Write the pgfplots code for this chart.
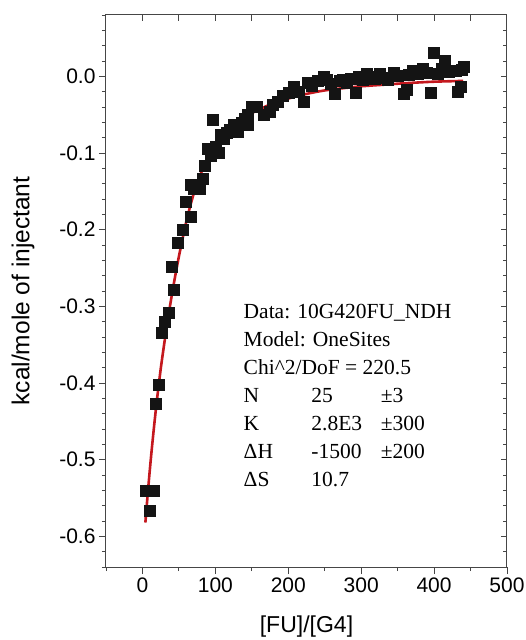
\documentclass[border=0pt]{standalone}
\usepackage{fontspec}
\setmainfont{Liberation Sans}
\newfontfamily\boxfont{Liberation Serif}
\usepackage{pgfplots}
\usepackage{pgfplotstable}
\pgfplotsset{compat=1.18}
\definecolor{fitred}{RGB}{196,24,30}
\definecolor{axgray}{RGB}{70,70,70}

\pgfplotstableread{
x y
4 -0.541
10 -0.566
16 -0.541
18 -0.427
22 -0.402
26 -0.335
30 -0.320
36 -0.308
43 -0.278
40 -0.248
48 -0.217
55 -0.200
60 -0.163
66 -0.183
66 -0.141
70 -0.146
79 -0.146
82 -0.134
86 -0.117
90 -0.095
94 -0.103
96 -0.057
100 -0.092
104 -0.099
107 -0.076
112 -0.082
116 -0.073
120 -0.070
125 -0.063
131 -0.072
136 -0.060
140 -0.055
144 -0.050
145 -0.063
150 -0.039
157 -0.039
166 -0.050
175 -0.046
179 -0.037
185 -0.033
193 -0.025
200 -0.022
207 -0.014
214 -0.020
221 -0.033
226 -0.008
232 -0.012
240 -0.006
248 -0.001
253 -0.004
258 -0.010
264 -0.023
270 -0.006
274 -0.004
280 -0.008
285 -0.003
292 -0.021
296 -0.001
302 -0.005
308 0.003
312 0.000
318 -0.003
326 0.003
330 -0.002
337 -0.004
344 0.005
350 0.001
358 -0.023
362 -0.017
365 0.002
371 0.007
378 0.004
385 0.010
390 0.005
395 -0.021
399 0.031
405 0.003
410 0.010
415 0.020
420 0.006
429 0.007
432 -0.020
436 -0.013
438 0.009
440 0.012
}\datatable

\pgfplotstableread{
x y
4 -0.582
8 -0.536
12 -0.494
16 -0.456
20 -0.421
25 -0.382
30 -0.348
35 -0.316
40 -0.287
45 -0.260
50 -0.235
55 -0.212
60 -0.190
65 -0.171
70 -0.154
75 -0.140
80 -0.127
90 -0.106
100 -0.091
110 -0.079
120 -0.069
130 -0.061
140 -0.054
150 -0.048
165 -0.041
180 -0.035
200 -0.029
220 -0.024
240 -0.020
260 -0.017
280 -0.015
300 -0.013
330 -0.011
360 -0.009
400 -0.007
440 -0.006
}\fittable

\newcommand{\boxtext}{\boxfont\fontsize{21.5}{26}\selectfont}

\begin{document}
\begin{tikzpicture}
\useasboundingbox (-106pt,-73pt) rectangle (420pt,567pt);
\begin{axis}[
  at={(0pt,0pt)}, anchor=south west,
  scale only axis, width=401pt, height=552pt,
  xmin=-50, xmax=500, ymin=-0.64, ymax=0.08,
  xtick={0,100,200,300,400,500},
  minor xtick={-50,50,150,250,350,450},
  ytick={-0.6,-0.5,-0.4,-0.3,-0.2,-0.1,0},
  minor ytick={-0.64,-0.62,-0.58,-0.56,-0.54,-0.52,-0.48,-0.46,-0.44,-0.42,-0.38,-0.36,-0.34,-0.32,-0.28,-0.26,-0.24,-0.22,-0.18,-0.16,-0.14,-0.12,-0.08,-0.06,-0.04,-0.02,0.02,0.04,0.06,0.08},
  xtick pos=left, ytick pos=left,
  tick align=outside,
  major tick length=7pt, minor tick length=4pt,
  every tick/.style={axgray, line width=0.9pt},
  axis line style={axgray, line width=1pt},
  scaled y ticks=false,
  /pgf/number format/assume math mode=true,
  ticklabel style={font=\fontsize{21}{21}\selectfont},
  yticklabel style={/pgf/number format/.cd, fixed, fixed zerofill, precision=1},
  xticklabel style={/pgf/number format/.cd, fixed, precision=0},
  xlabel={[FU]/[G4]},
  ylabel={kcal/mole of injectant},
  every axis x label/.style={at={(axis description cs:0.5,-0.107)}, anchor=center, font=\fontsize{23}{23}\selectfont},
  every axis y label/.style={at={(axis description cs:-0.207,0.5)}, anchor=center, rotate=90, font=\fontsize{24.5}{24.5}\selectfont},
]
\addplot[only marks, mark=square*, mark size=5.5pt, mark options={fill=black!92, draw=black!92}] table[x=x,y=y] {\datatable};
\addplot[fitred, line width=2.6pt, smooth, no markers] table[x=x,y=y] {\fittable};

\node[anchor=base west, font=\boxtext] at (axis cs:134,-0.3157) {Data: 10G420FU\_NDH};
\node[anchor=base west, font=\boxtext] at (axis cs:134,-0.352) {Model: OneSites};
\node[anchor=base west, font=\boxtext] at (axis cs:134,-0.389) {Chi\textasciicircum 2/DoF = 220.5};
\node[anchor=base west, font=\boxtext] at (axis cs:134,-0.425) {N};
\node[anchor=base west, font=\boxtext] at (axis cs:227,-0.425) {25};
\node[anchor=base west, font=\boxtext] at (axis cs:322,-0.425) {±3};
\node[anchor=base west, font=\boxtext] at (axis cs:134,-0.462) {K};
\node[anchor=base west, font=\boxtext] at (axis cs:227,-0.462) {2.8E3};
\node[anchor=base west, font=\boxtext] at (axis cs:322,-0.462) {±300};
\node[anchor=base west, font=\boxtext] at (axis cs:134,-0.498) {ΔH};
\node[anchor=base west, font=\boxtext] at (axis cs:227,-0.498) {-1500};
\node[anchor=base west, font=\boxtext] at (axis cs:322,-0.498) {±200};
\node[anchor=base west, font=\boxtext] at (axis cs:134,-0.535) {ΔS};
\node[anchor=base west, font=\boxtext] at (axis cs:227,-0.535) {10.7};
\end{axis}
\begin{axis}[
  at={(0pt,0pt)}, anchor=south west,
  scale only axis, width=401pt, height=552pt,
  xmin=-50, xmax=500, ymin=-0.64, ymax=0.08,
  xtick={0,50,100,150,200,250,300,350,400,450},
  ytick={-0.6,-0.5,-0.4,-0.3,-0.2,-0.1,0},
  minor ytick={-0.62,-0.58,-0.56,-0.54,-0.52,-0.48,-0.46,-0.44,-0.42,-0.38,-0.36,-0.34,-0.32,-0.28,-0.26,-0.24,-0.22,-0.18,-0.16,-0.14,-0.12,-0.08,-0.06,-0.04,-0.02,0.02,0.04,0.06},
  xtick pos=right, ytick pos=right,
  tick align=inside,
  major tick length=6pt, minor tick length=4pt,
  every tick/.style={axgray, line width=0.9pt},
  axis line style={axgray, line width=1pt},
  xticklabels={}, yticklabels={},
]
\end{axis}
\end{tikzpicture}
\end{document}
